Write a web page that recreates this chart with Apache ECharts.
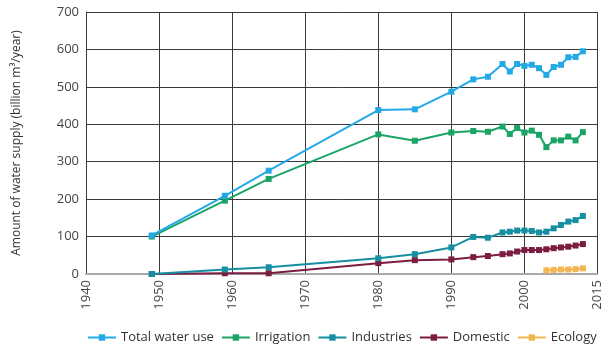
<!DOCTYPE html>
<html>
<head>
<meta charset="utf-8">
<script src="https://cdn.jsdelivr.net/npm/echarts@6/dist/echarts.min.js"></script>
<style>
  html, body { margin: 0; padding: 0; background: #fff; }
  #chart { width: 604px; height: 346px; }
</style>
</head>
<body>
<div id="chart"></div>
<script>
// water supply chart
const xTicks = [1940, 1950, 1960, 1970, 1980, 1990, 2000, 2010];
const xTickLabels = ['1940', '1950', '1960', '1970', '1980', '1990', '2000', '2015'];

const yearsLong = [1949, 1959, 1965, 1980, 1985, 1990, 1993, 1995, 1997, 1998, 1999, 2000, 2001, 2002, 2003, 2004, 2005, 2006, 2007, 2008];
const totalUse   = [103, 209, 276, 438, 440, 487, 520, 527, 561, 541, 561, 556, 559, 550, 532, 553, 559, 579, 580, 595];
const irrigation = [100, 196, 254, 373, 356, 378, 382, 380, 394, 374, 390, 378, 383, 372, 339, 357, 357, 367, 357, 379];
const industries = [0, 12, 18, 42, 53, 71, 99, 97, 111, 113, 116, 116, 115, 111, 113, 122, 131, 140, 144, 155];
const domestic   = [0, 2, 2, 29, 37, 39, 45, 48, 53, 55, 60, 64, 64, 64, 66, 69, 71, 73, 76, 80];

const yearsEco = [2003, 2004, 2005, 2006, 2007, 2008];
const ecology  = [10, 11, 12, 12, 13, 15];

const names = ['Total water use', 'Irrigation', 'Industries', 'Domestic', 'Ecology'];
const colors = ['#22a9e6', '#1aa466', '#178fa3', '#7b1d40', '#f3b653'];

function pairs(xs, ys) {
    return xs.map((x, i) => [x, ys[i]]);
}

const chart = echarts.init(document.getElementById('chart'));

const seriesData = [
    pairs(yearsLong, totalUse),
    pairs(yearsLong, irrigation),
    pairs(yearsLong, industries),
    pairs(yearsLong, domestic),
    pairs(yearsEco, ecology)
];

const gridColor = '#3a3a3a';

chart.setOption({
    animation: false,
    textStyle: { fontFamily: 'Open Sans' },
    grid: { left: 86, right: 4, top: 12, bottom: 72 },
    legend: {
        data: names,
        left: 82,
        top: 326,
        itemWidth: 28,
        itemHeight: 8,
        itemGap: 7,
        textStyle: { fontSize: 13, color: '#333', fontFamily: 'Open Sans' }
    },
    xAxis: {
        type: 'value',
        min: 1940,
        max: 2010,
        interval: 10,
        axisLine: { show: true, lineStyle: { color: '#aaa', width: 2 } },
        axisTick: { show: false },
        splitLine: { show: true, lineStyle: { color: gridColor, width: 1 } },
        axisLabel: {
            rotate: 90,
            fontSize: 13,
            color: '#444',
            margin: 6,
            formatter: v => {
                const i = xTicks.indexOf(v);
                return i >= 0 ? xTickLabels[i] : '';
            }
        }
    },
    yAxis: {
        type: 'value',
        min: 0,
        max: 700,
        interval: 100,
        name: 'Amount of water supply (billion m\u00b3/year)',
        nameLocation: 'middle',
        nameGap: 63,
        nameTextStyle: { fontSize: 12, color: '#333' },
        axisLine: { show: true, lineStyle: { color: gridColor, width: 1 } },
        axisTick: { show: false },
        splitLine: { show: true, lineStyle: { color: gridColor, width: 1 } },
        axisLabel: { fontSize: 13, color: '#444', margin: 7 }
    },
    series: names.map((n, i) => ({
        name: n,
        type: 'line',
        data: seriesData[i],
        symbol: 'rect',
        symbolSize: 6,
        showAllSymbol: true,
        lineStyle: { color: colors[i], width: 2 },
        itemStyle: { color: colors[i] },
        z: 10 - i
    }))
});
</script>
</body>
</html>
